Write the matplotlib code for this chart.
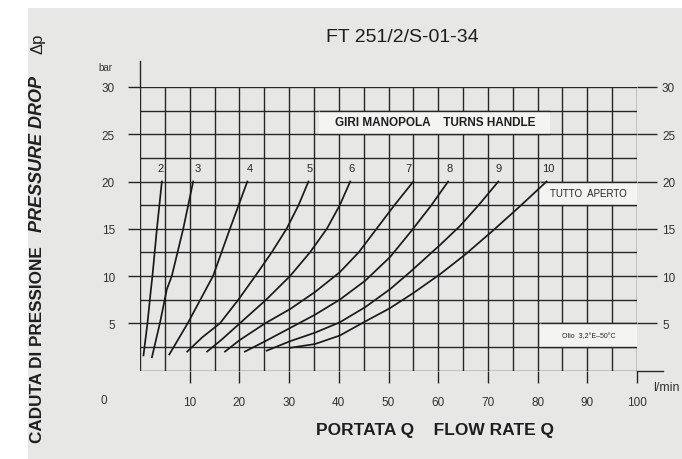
import numpy as np
import matplotlib
matplotlib.use('Agg')
from matplotlib import pyplot as plt
from matplotlib.patches import Rectangle

plt.rcParams['font.family'] = ['Liberation Sans', 'DejaVu Sans']

# flow rate Q (l/min) and pressure drop (bar) for each number of handle turns
q2 = [0.7, 1.5, 2.2, 2.5, 3.4, 4.4]
p2 = [1.6, 5.0, 8.6, 10.0, 15.0, 20.0]
q3 = [2.4, 4.0, 5.4, 6.4, 8.7, 10.7]
p3 = [1.4, 5.0, 8.6, 10.0, 15.0, 20.0]
q4 = [5.9, 9.6, 14.7, 18.1, 21.6]
p4 = [1.7, 5.0, 10.0, 15.0, 20.0]
q5 = [9.5, 12.5, 16.1, 19.8, 23.2, 26.5, 29.5, 31.9, 33.9]
p5 = [2.0, 3.5, 5.0, 7.5, 10.0, 12.5, 15.0, 17.5, 20.0]
q6 = [13.5, 16.5, 20.1, 25.4, 30.2, 34.2, 37.6, 40.2, 42.3]
p6 = [2.0, 3.3, 5.0, 7.5, 10.0, 12.5, 15.0, 17.5, 20.0]
q7 = [17.1, 20.0, 25.2, 30.2, 35.2, 40.2, 44.0, 47.6, 51.2, 55.0]
p7 = [2.0, 3.2, 5.0, 6.5, 8.3, 10.4, 12.5, 15.0, 17.5, 20.0]
q8 = [21.1, 25.2, 30.2, 35.2, 40.2, 45.3, 50.3, 54.5, 58.5, 62.0]
p8 = [2.0, 3.1, 4.5, 5.9, 7.5, 9.5, 12.0, 14.7, 17.4, 20.0]
q9 = [25.5, 30.2, 35.2, 40.2, 45.3, 50.3, 54.3, 60.4, 64.4, 68.3, 72.1]
p9 = [2.1, 3.1, 4.0, 5.1, 6.7, 8.6, 10.4, 13.3, 15.3, 17.6, 20.0]
q10 = [30.2, 35.2, 40.2, 45.0, 50.3, 55.0, 60.4, 65.5, 71.0, 76.5, 81.8]
p10 = [2.4, 2.8, 3.7, 5.1, 6.6, 8.2, 10.2, 12.3, 14.8, 17.4, 20.0]

turns = ['2', '3', '4', '5', '6', '7', '8', '9', '10']
turn_label_x = [4.2, 11.7, 22.0, 34.1, 42.5, 54.0, 62.2, 72.2, 82.2]
curves = [(q2, p2), (q3, p3), (q4, p4), (q5, p5), (q6, p6),
          (q7, p7), (q8, p8), (q9, p9), (q10, p10)]

x_ticks = [10, 20, 30, 40, 50, 60, 70, 80, 90, 100]
y_ticks = [5, 10, 15, 20, 25, 30]

ink = '#262626'
W, H = 682, 460

fig = plt.figure(figsize=(6.82, 4.6), dpi=100, facecolor='white')
# scanned page background
fig.patches.append(Rectangle((28 / W, 0), 1 - 28 / W, 451 / H, transform=fig.transFigure,
                             facecolor='#e7e7e5', edgecolor='none', zorder=-5))

ax = fig.add_axes([140 / W, (H - 371.5) / H, 497 / W, 283.5 / H])
ax.set_xlim(0, 100)
ax.set_ylim(0, 30)
ax.patch.set_alpha(0)
for s in ax.spines.values():
    s.set_visible(False)

# grid
ax.vlines(np.arange(0, 100.1, 5), 0, 30, color=ink, lw=1.0, zorder=1)
ax.hlines(np.arange(0, 30.1, 2.5), 0, 100, color=ink, lw=1.0, zorder=1)
ax.plot([0, 0], [30, 32.8], color=ink, lw=1.0, clip_on=False)
ax.plot([100, 105.3], [0, 0], color=ink, lw=1.0, clip_on=False)

# white label boxes over the grid
ax.add_patch(Rectangle((36, 25), 46.5, 2.5, facecolor='#f4f4f2', edgecolor='none', zorder=2))
ax.add_patch(Rectangle((80.5, 17.5), 19.5, 2.5, facecolor='#f4f4f2', edgecolor='none', zorder=2))
ax.add_patch(Rectangle((80.5, 2.5), 19.5, 2.5, facecolor='#f4f4f2', edgecolor='none', zorder=2))
ax.hlines([25, 27.5, 17.5, 20, 2.5, 5], [36, 36, 80.5, 80.5, 80.5, 80.5], [82.5, 82.5, 100, 100, 100, 100],
          color=ink, lw=1.0, zorder=2.5)

for (q, p), t, lx in zip(curves, turns, turn_label_x):
    ax.plot(q, p, color='#1a1a1a', lw=1.25, zorder=3)
    ax.text(lx, 21.4, t, fontsize=8, ha='center', va='center', color=ink, zorder=4)

ax.text(59.3, 26.25, 'GIRI MANOPOLA    TURNS HANDLE', fontsize=8.5, fontweight='bold',
        ha='center', va='center', color='#1e1e1e', zorder=4)
ax.text(90.3, 18.75, 'TUTTO  APERTO', fontsize=7, ha='center', va='center', color=ink, zorder=4)
ax.text(90.3, 3.7, 'Olio  3,2°E–50°C', fontsize=5, ha='center', va='center', color=ink, zorder=4)

# ticks
ax.set_xticks(x_ticks)
ax.set_yticks(y_ticks)
ax.tick_params(axis='x', direction='out', length=8.6, width=1.0, color=ink, pad=10,
               labelsize=8.5, labelcolor='#333333')
ax.tick_params(axis='y', direction='out', length=9, width=1.0, color=ink, pad=9,
               labelsize=8.5, labelcolor='#333333', right=True, labelright=True)
for t in ax.yaxis.get_major_ticks():
    t.tick2line.set_markersize(14.4)

ax.text(-7.2, -3.1, '0', fontsize=8.5, ha='center', va='center', color='#333333')
ax.text(-7.0, 32.1, 'bar', fontsize=7, ha='center', va='center', color='#333333')
ax.text(103.2, -1.75, 'l/min', fontsize=9, ha='left', va='center', color='#333333', clip_on=False)

# titles
fig.text(402 / W, 1 - 38 / H, 'FT 251/2/S-01-34', fontsize=14, ha='center', va='center', color='#1e1e1e')
fig.text(435 / W, 1 - 431 / H, 'PORTATA Q    FLOW RATE Q', fontsize=12.5, fontweight='bold',
         ha='center', va='center', color='#1e1e1e')
fig.text(38 / W, 1 - 345 / H, 'CADUTA DI PRESSIONE', fontsize=12.3, fontweight='bold', rotation=90,
         ha='center', va='center', color='#1e1e1e')
fig.text(38 / W, 1 - 154 / H, 'PRESSURE DROP', fontsize=13, fontweight='bold', style='italic',
         rotation=90, ha='center', va='center', color='#1e1e1e')
fig.text(38 / W, 1 - 44 / H, 'Δp', fontsize=12, rotation=90, ha='center', va='center',
         color='#1e1e1e')

plt.savefig('out.png', dpi=100)
